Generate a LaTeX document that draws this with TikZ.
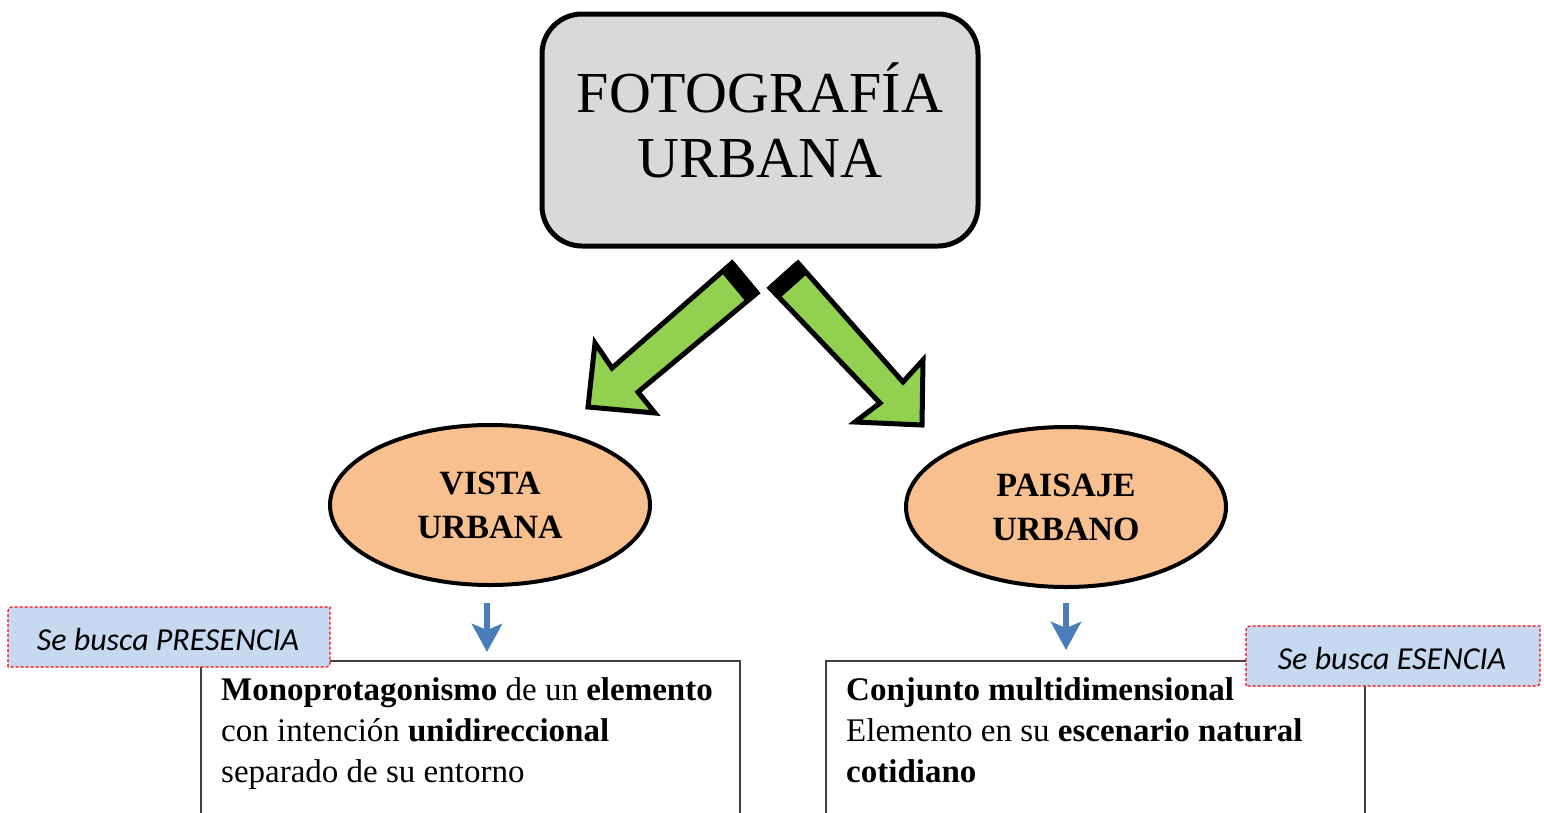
\documentclass[tikz,border=0pt]{standalone}
\usepackage{fontspec}
\setmainfont{Liberation Serif}
\newfontfamily\calfont{Carlito}
\usetikzlibrary{shapes.geometric, arrows.meta, calc}
\definecolor{boxgray}{RGB}{217,217,217}
\definecolor{arrowgreen}{RGB}{146,208,80}
\definecolor{ovalpeach}{RGB}{249,192,143}
\definecolor{downblue}{RGB}{74,126,187}
\definecolor{notefill}{RGB}{198,217,241}
\definecolor{noteline}{RGB}{255,0,0}

\tikzset{
  titlebox/.style={draw, line width=5pt, fill=boxgray, rounded corners=40pt,
    minimum width=436pt, minimum height=232pt, align=center, text depth=20pt,
    font=\fontsize{58}{65}\selectfont},
  oval/.style={ellipse, draw, line width=4pt, fill=ovalpeach, minimum width=320pt,
    minimum height=160pt, inner sep=0pt, align=center,
    font=\fontsize{34}{44}\selectfont\bfseries},
  bigarrow/.style={draw, line width=5pt, fill=arrowgreen},
  downarrow/.style={draw=downblue, line width=6pt, -{Stealth[length=28pt, width=30pt, inset=6pt]}},
  textbox/.style={draw=black!75, line width=1.5pt, minimum width=539pt,
    minimum height=200pt, anchor=north west},
  bodytext/.style={anchor=north west, align=left, inner sep=0pt,
    font=\fontsize{33}{41}\selectfont},
  notebox/.style={draw=noteline, line width=1.2pt, dash pattern=on 3pt off 2pt, fill=notefill},
  notetext/.style={inner sep=0pt, font=\calfont\itshape\fontsize{32}{36}\selectfont}
}

% corner shape: top left and bottom right rounded
\newcommand{\noteshape}[2]{%
  \draw[notebox] let \p1=(#1), \p2=(#2) in
    (\x1,\y2) -- (\x1,\y1-8pt) .. controls (\x1,\y1) .. (\x1+8pt,\y1)
    -- (\x2,\y1) -- (\x2,\y2+8pt) .. controls (\x2,\y2) .. (\x2-8pt,\y2) -- cycle;}

\begin{document}
\begin{tikzpicture}[x=1pt, y=-1pt]
    \useasboundingbox (0,0) rectangle (1544,812);

    \node[titlebox] (foto) at (760,130) {FOTOGRAFÍA\\URBANA};

    % green block arrows
    \filldraw[bigarrow] (732,263) -- (612,368) -- (595,343) -- (588,407)
        -- (655,413) -- (638,392) -- (757,293) -- cycle;
    \fill[black] (732,263) -- (757,293) -- (746,302) -- (721,272) -- cycle;
    \draw[line width=5pt] (732,263) -- (757,293);
    \filldraw[bigarrow] (798,263) -- (903,382) -- (923,360) -- (922,425)
        -- (855,422) -- (880,403) -- (770,288) -- cycle;
    \fill[black] (798,263) -- (770,288) -- (780,298) -- (808,273) -- cycle;
    \draw[line width=5pt] (798,263) -- (770,288);

    \node[oval] (vista) at (490,505) {VISTA\\URBANA};
    \node[oval] (paisaje) at (1066,507) {PAISAJE\\URBANO};

    \node[textbox] (vistabox) at (200,660) {};
    \node[textbox] (paisajebox) at (825,660) {};

    \draw[downarrow] ([xshift=-3pt, yshift=-16pt]vista.south) -- ([xshift=-3pt, yshift=8pt]vistabox.north -| vista.south);
    \draw[downarrow] ([yshift=-14pt]paisaje.south) -- ([yshift=10pt]paisajebox.north -| paisaje.south);

    \node[bodytext] (vistatext) at (221,677)
        {\textbf{Monoprotagonismo} de un \textbf{elemento}\\
         con intención \textbf{unidireccional}\\
         separado de su entorno};
    \node[bodytext] (paisajetext) at (846,677)
        {\textbf{Conjunto multidimensional}\\
         Elemento en su \textbf{escenario natural}\\
         \textbf{cotidiano}};

    % notes
    \coordinate (presNW) at (8,607);
    \coordinate (presSE) at (330,667);
    \noteshape{presNW}{presSE}
    \node[notetext] (pres) at (168,639) {Se busca PRESENCIA};

    \coordinate (esenNW) at (1246,626);
    \coordinate (esenSE) at (1540,686);
    \noteshape{esenNW}{esenSE}
    \node[notetext] (esen) at (1392,658) {Se busca ESENCIA};
\end{tikzpicture}
\end{document}
